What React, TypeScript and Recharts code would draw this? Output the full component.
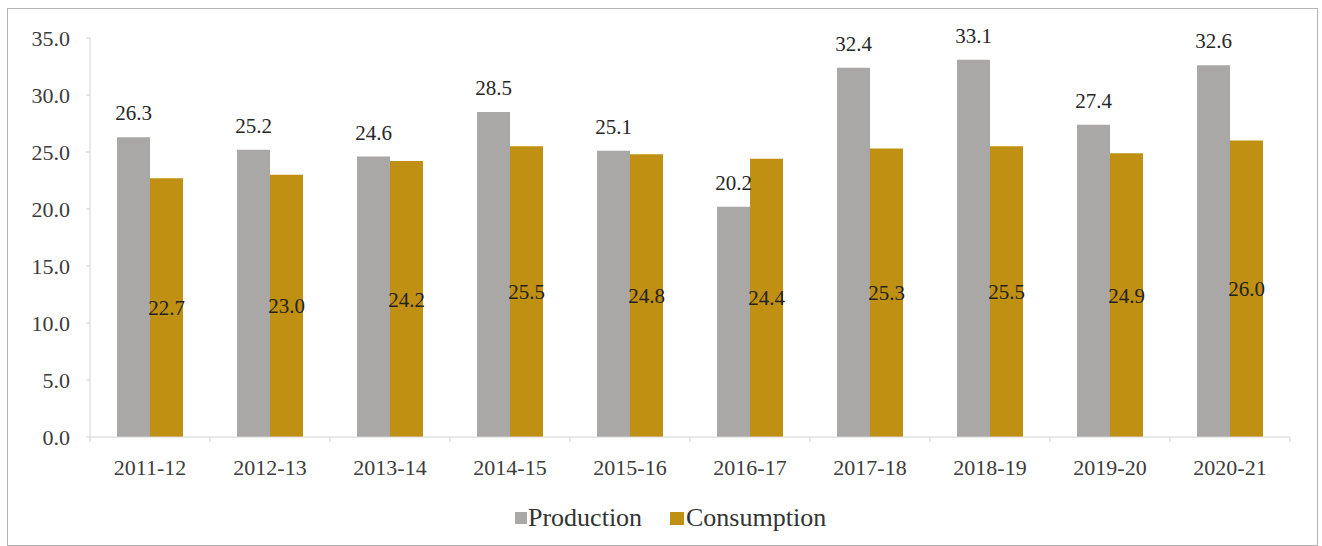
import React from 'react';
import { BarChart, Bar, XAxis, YAxis, Legend, LabelList } from 'recharts';

const years = ['2011-12', '2012-13', '2013-14', '2014-15', '2015-16', '2016-17', '2017-18', '2018-19', '2019-20', '2020-21'];
const production = [26.3, 25.2, 24.6, 28.5, 25.1, 20.2, 32.4, 33.1, 27.4, 32.6];
const consumption = [22.7, 23.0, 24.2, 25.5, 24.8, 24.4, 25.3, 25.5, 24.9, 26.0];
const yTicks = [0, 5, 10, 15, 20, 25, 30, 35];

const data = years.map((y, i) => ({ year: y, Production: production[i], Consumption: consumption[i] }));

const FONT = '"Liberation Serif", "Times New Roman", serif';
const GREY = '#a9a8a6';
const GOLD = '#bf9012';

const XTick = (props: any) => {
  const { x, y, payload, index } = props;
  const half = payload?.offset ?? 60;
  return (
    <g>
      <line x1={x - half} x2={x - half} y1={y - 22} y2={y - 17} stroke="#cfcfcf" />
      {index === years.length - 1 && (
        <line x1={x + half} x2={x + half} y1={y - 22} y2={y - 17} stroke="#cfcfcf" />
      )}
      <text x={x} y={y} dy="0.71em" textAnchor="middle" fill="#3c3c3c" style={{ fontFamily: FONT }} fontSize={22}>
        {payload.value}
      </text>
    </g>
  );
};

const LegendContent = () => (
  <div style={{ display: 'flex', alignItems: 'center', height: 30, fontFamily: FONT, fontSize: 26, color: '#333' }}>
    <div style={{ display: 'flex', alignItems: 'center', width: 155 }}>
      <span style={{ display: 'inline-block', width: 12, height: 12, background: GREY, marginRight: 1 }} />
      <span>Production</span>
    </div>
    <div style={{ display: 'flex', alignItems: 'center' }}>
      <span style={{ display: 'inline-block', width: 14, height: 13, background: GOLD, marginRight: 2 }} />
      <span>Consumption</span>
    </div>
  </div>
);

export default function App() {
  return (
    <div
      style={{
        position: 'absolute',
        left: 7,
        top: 8,
        width: 1309,
        height: 536,
        border: '1px solid #b4b4b4',
        background: '#fff',
      }}
    >
      <BarChart
        width={1309}
        height={536}
        data={data}
        margin={{ top: 29, right: 27, left: 0, bottom: 0 }}
        barGap={0}
        barSize={33}
      >
        <YAxis
          width={82}
          domain={[0, 35]}
          ticks={yTicks}
          tickFormatter={(v: number) => v.toFixed(1)}
          axisLine={{ stroke: '#d4d4d4' }}
          tickLine={{ stroke: '#cfcfcf' }}
          tickSize={4}
          tickMargin={16}
          tick={{ fill: '#3c3c3c', style: { fontFamily: FONT }, fontSize: 22 }}
          interval={0}
        />
        <XAxis
          dataKey="year"
          height={78}
          axisLine={{ stroke: '#d4d4d4' }}
          tickLine={false}
          tickSize={0}
          tickMargin={22}
          tick={<XTick />}
          interval={0}
        />
        <Legend
          verticalAlign="bottom"
          content={<LegendContent />}
          wrapperStyle={{ position: 'absolute', left: 507, top: 494, width: 360, height: 30 }}
        />
        <Bar dataKey="Production" fill={GREY} isAnimationActive={false}>
          <LabelList
            dataKey="Production"
            position="top"
            offset={17}
            formatter={(v: number) => v.toFixed(1)}
            style={{ fill: '#262626', fontFamily: FONT, fontSize: 21 }}
          />
        </Bar>
        <Bar dataKey="Consumption" fill={GOLD} isAnimationActive={false}>
          <LabelList
            dataKey="Consumption"
            position="center"
            formatter={(v: number) => v.toFixed(1)}
            style={{ fill: '#222', fontFamily: FONT, fontSize: 21 }}
          />
        </Bar>
      </BarChart>
    </div>
  );
}
